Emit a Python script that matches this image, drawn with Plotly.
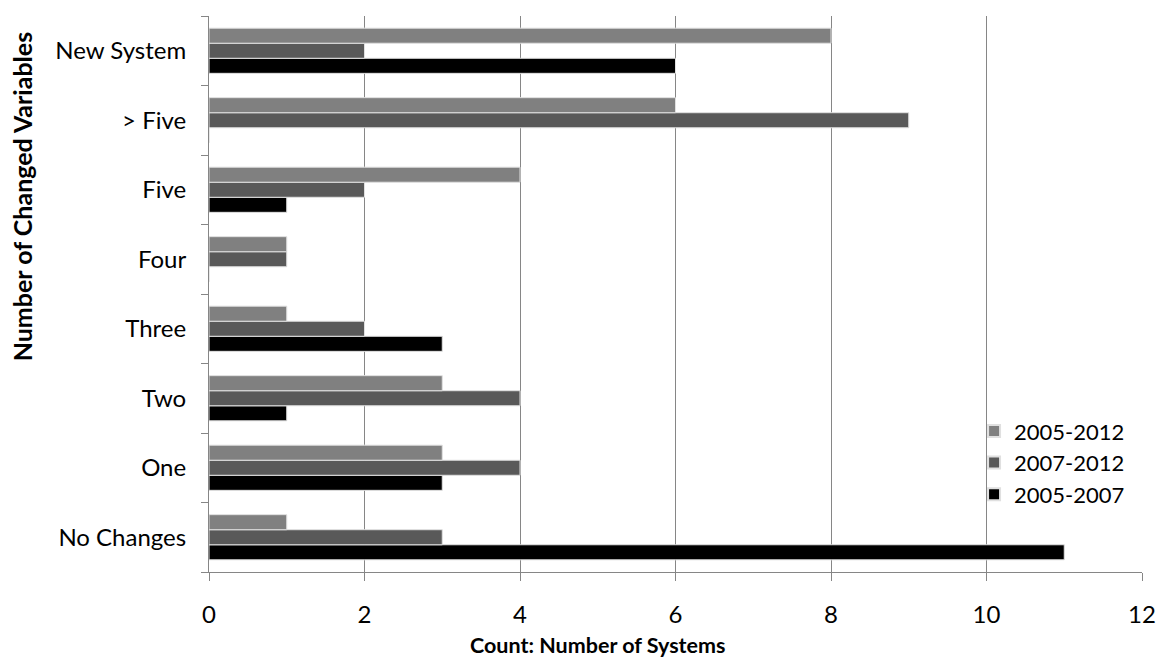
import plotly.graph_objects as go

categories = ["No Changes", "One", "Two", "Three", "Four", "Five", "> Five", "New System"]
s_2005_2012 = [1, 3, 3, 1, 1, 4, 6, 8]
s_2007_2012 = [3, 4, 4, 2, 1, 2, 9, 2]
s_2005_2007 = [11, 3, 1, 3, 0, 1, 0, 6]
x_ticks = [0, 2, 4, 6, 8, 10, 12]

font_family = "Lato, 'Open Sans', sans-serif"

fig = go.Figure()
# plotted bottom-to-top within each group
for name, vals, color in [
    ("2005-2007", s_2005_2007, "#000000"),
    ("2007-2012", s_2007_2012, "#595959"),
    ("2005-2012", s_2005_2012, "#808080"),
]:
    fig.add_trace(go.Bar(
        y=categories, x=vals, name=name, orientation="h",
        marker=dict(color=color, line=dict(color="#e0e0e0", width=1)),
    ))

fig.update_layout(
    width=1156, height=657,
    margin=dict(l=209, r=14, t=16, b=85),
    paper_bgcolor="white", plot_bgcolor="white",
    barmode="group", bargap=0.35, bargroupgap=0,
    font=dict(family=font_family, size=22, color="#000000"),
    legend=dict(
        traceorder="reversed", x=0.82, y=0.291, xanchor="left", yanchor="top",
        font=dict(size=22), bgcolor="rgba(0,0,0,0)", itemsizing="constant",
        tracegroupgap=0,
    ),
    xaxis=dict(
        range=[0, 12], tickvals=x_ticks, showgrid=True, gridcolor="#868686", gridwidth=1,
        showline=True, linecolor="#868686", linewidth=1,
        ticks="outside", ticklen=8, tickcolor="#868686", zeroline=False,
        tickfont=dict(size=24), ticklabelstandoff=13, automargin=False,
    ),
    yaxis=dict(
        categoryorder="array", categoryarray=categories,
        showline=True, linecolor="#868686", linewidth=1,
        ticks="outside", tickson="boundaries", ticklen=7, tickcolor="#868686",
        tickfont=dict(size=24), ticklabelstandoff=17, automargin=False,
    ),
    annotations=[
        dict(text="<b>Count: Number of Systems</b>", xref="paper", yref="paper",
             x=0.416, y=-0.131, xanchor="center", yanchor="middle",
             showarrow=False, font=dict(size=21.5)),
        dict(text="<b>Number of Changed Variables</b>", xref="paper", yref="paper",
             x=-0.2004, y=0.674, xanchor="center", yanchor="middle", textangle=-90,
             showarrow=False, font=dict(size=25)),
    ],
)

fig.write_html("out.html")
